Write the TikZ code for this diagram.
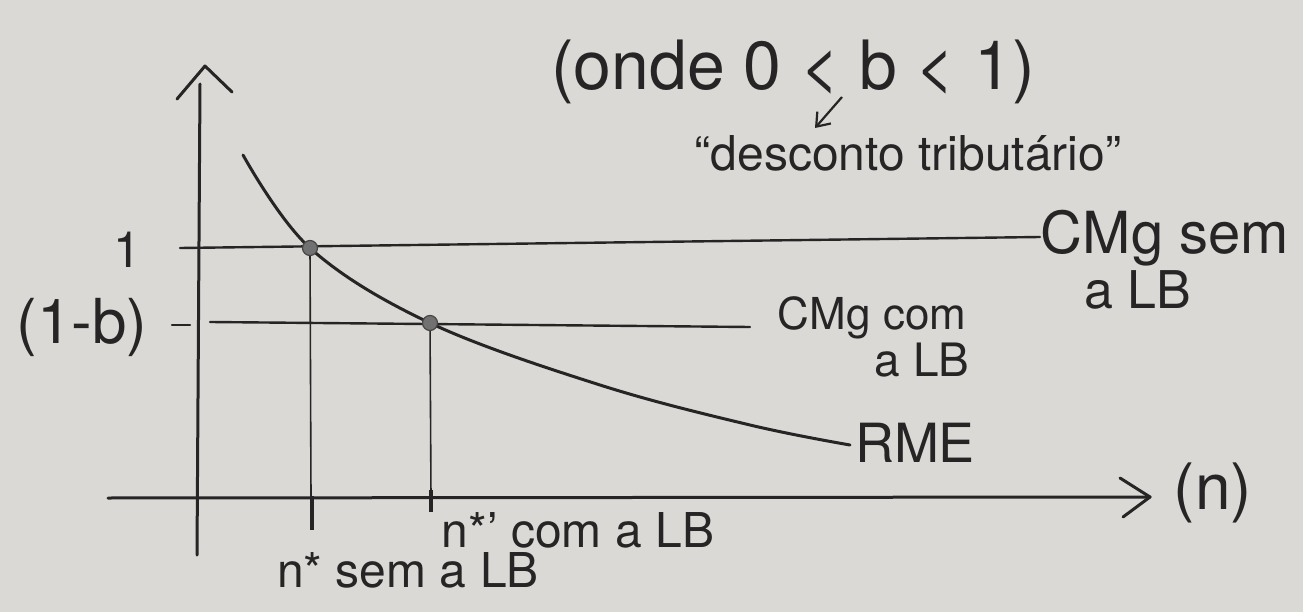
\documentclass[tikz,border=0pt]{standalone}
\usepackage{fontspec}
\setmainfont{TeX Gyre Heros}
\usetikzlibrary{arrows.meta}
\definecolor{paper}{RGB}{219,217,214}
\definecolor{ink}{RGB}{38,36,36}
\begin{document}
\begin{tikzpicture}[x=1pt,y=-1pt,
  axisline/.style={ink,line width=3pt,line cap=round,line join=round},
  levelline/.style={ink,line width=2.4pt,line cap=round},
  guide/.style={ink,line width=1.6pt},
  tickmark/.style={ink,line width=4pt},
  eqdot/.style={circle,draw=ink!85,fill=ink!65,line width=1.2pt,inner sep=0pt,minimum size=15pt},
  lbl/.style={ink,inner sep=0pt,anchor=center}]
\fill[paper] (0,0) rectangle (1303,612);
\useasboundingbox (0,0) rectangle (1303,612);
% axes
\coordinate (yb) at (197,555);
\coordinate (yt) at (200,84);
\coordinate (xl) at (108,498);
\coordinate (xr) at (1150,497);
\draw[axisline] (yb) -- (yt);
\draw[axisline] (177,99) -- (205,66) -- (232,92);
\draw[axisline] (xl) -- (xr);
\draw[axisline] (1120,478) -- (xr) -- (1123,517);
% level lines
\coordinate (h1a) at (180,248);
\coordinate (h1b) at (1040,237);
\coordinate (h2a) at (210,322);
\coordinate (h2b) at (750,327);
\draw[levelline] (h1a) -- (h1b);
\draw[levelline] (h2a) -- (h2b);
\draw[levelline] (172,325) -- (190,325);
% RME curve
\draw[ink,line width=3pt,line cap=round] plot[smooth,tension=0.6] coordinates {(243,155) (310,248) (430,323) (600,385) (750,425) (850,445)};
% equilibrium points
\node[eqdot] (p1) at (310,248) {};
\node[eqdot] (p2) at (430,323) {};
\coordinate (f1) at (311,498);
\coordinate (f2) at (431,498);
\draw[guide] (p1) -- (f1);
\draw[guide] (p2) -- (f2);
\draw[tickmark] (312,496) -- (312,530);
\draw[tickmark] (431,490) -- (431,512);
% labels
\node[lbl,font=\fontsize{50}{50}\selectfont] (one) at (127,250) {1};
\node[lbl,font=\fontsize{62}{62}\selectfont] (omb) at (82,327) {(1-b)};
\node[lbl,font=\fontsize{64}{64}\selectfont] (nlab) at (1213,493) {(n)};
\node[lbl,font=\fontsize{54}{54}\selectfont] (rme) at (915,443) {RME};
\node[lbl,font=\fontsize{58}{58}\selectfont] (cs1) at (1165,238) {CMg sem};
\node[lbl,font=\fontsize{52}{52}\selectfont] (cs2) at (1138,290) {a LB};
\node[lbl,font=\fontsize{44}{44}\selectfont] (cc1) at (872,318) {CMg com};
\node[lbl,font=\fontsize{46}{46}\selectfont] (cc2) at (922,360) {a LB};
\node[lbl,font=\fontsize{48}{48}\selectfont] (ns) at (408,570) {n* sem a LB};
\node[lbl,font=\fontsize{48}{48}\selectfont] (nc) at (578,530) {n*' com a LB};
\node[lbl,font=\fontsize{68}{68}\selectfont] (onde) at (793,72) {(onde 0 < b < 1)};
\node[lbl,font=\fontsize{48}{48}\selectfont] (desc) at (908,153) {``desconto tributário''};
\coordinate (aa) at (842,97);
\coordinate (ab) at (815,128);
\draw[ink,line width=2.2pt,-{Straight Barb[length=12pt,width=18pt]}] (aa) -- (ab);
\end{tikzpicture}
\end{document}
